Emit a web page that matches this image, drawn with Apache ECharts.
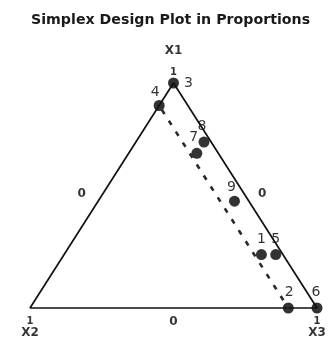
<!DOCTYPE html>
<html>
<head>
<meta charset="utf-8">
<script src="https://cdn.jsdelivr.net/npm/echarts@6/dist/echarts.min.js"></script>
<style>
  html, body { margin: 0; padding: 0; background: #fff; }
  #chart { width: 329px; height: 340px; }
</style>
</head>
<body>
<div id="chart"></div>
<script>
// Design runs, as proportions of the three components
const runIds = ['1', '2', '3', '4', '5', '6', '7', '8', '9'];
const propX1 = [0.2375, 0.0, 1.0, 0.9, 0.2375, 0.0, 0.6875, 0.7375, 0.475];
const propX2 = [0.075, 0.1, 0.0, 0.1, 0.025, 0.0, 0.075, 0.025, 0.05];
const propX3 = [0.6875, 0.9, 0.0, 0.0, 0.7375, 1.0, 0.2375, 0.2375, 0.475];

// Vertices and edges of the simplex
const componentNames = ['X1', 'X2', 'X3'];
const vertexValues = ['1', '1', '1'];
const edgeValues = ['0', '0', '0'];

// Upper bound on X2 (constraint line)
const x2Limit = 0.1;

// Ternary -> plane: X2 at (0,0), X3 at (1,0), X1 at (0.5,1)
function toXY(a, b, c) {
  const s = a + b + c;
  return [c / s + 0.5 * a / s, a / s];
}

const vX1 = toXY(1, 0, 0), vX2 = toXY(0, 1, 0), vX3 = toXY(0, 0, 1);
const mid = (p, q) => [(p[0] + q[0]) / 2, (p[1] + q[1]) / 2];

const labelFont = { fontFamily: 'DejaVu Sans', color: '#000' };

// per-run label placement
const runLabelPlace = {
  '1': { position: 'top', offset: [0, 0] },
  '2': { position: 'top', offset: [1, 0] },
  '3': { position: 'right', offset: [2, 0] },
  '4': { position: 'top', offset: [-4, 2] },
  '5': { position: 'top', offset: [0, 0] },
  '6': { position: 'top', offset: [-1, 0] },
  '7': { position: 'top', offset: [-3, 0] },
  '8': { position: 'top', offset: [-2, 0] },
  '9': { position: 'top', offset: [-3, 2] }
};

const runData = runIds.map((id, i) => {
  const place = runLabelPlace[id];
  return {
    name: id,
    value: toXY(propX1[i], propX2[i], propX3[i]),
    label: { position: place.position, offset: place.offset }
  };
});

// vertex captions: component name plus its value at that corner
const vertexData = [
  { value: vX1, label: { position: 'top', distance: 5,
      formatter: '{top|' + componentNames[0] + '}\n{v|' + vertexValues[0] + '}' } },
  { value: vX2, label: { position: 'bottom', distance: 8,
      formatter: '{v|' + vertexValues[1] + '}\n{n|' + componentNames[1] + '}' } },
  { value: vX3, label: { position: 'bottom', distance: 8,
      formatter: '{v|' + vertexValues[2] + '}\n{n|' + componentNames[2] + '}' } }
];

const edgeData = [
  { value: mid(vX1, vX2), label: { formatter: edgeValues[0], offset: [-20, -2] } },
  { value: mid(vX1, vX3), label: { formatter: edgeValues[1], offset: [17, -2] } },
  { value: mid(vX2, vX3), label: { formatter: edgeValues[2], offset: [0, 14] } }
];

const captionStyle = { fontFamily: 'DejaVu Sans', fontWeight: 'bold', color: '#000' };

const chart = echarts.init(document.getElementById('chart'), null, { renderer: 'canvas' });
chart.setOption({
  animation: false,
  backgroundColor: '#fff',
  title: {
    text: 'Simplex Design Plot in Proportions',
    left: 26,
    top: 8,
    textStyle: { fontFamily: 'DejaVu Sans', fontWeight: 'bold', fontSize: 14.2, color: '#1a1a1a' }
  },
  grid: { left: 30, right: 12, top: 83, bottom: 32 },
  xAxis: { type: 'value', min: 0, max: 1, show: false },
  yAxis: { type: 'value', min: 0, max: 1, show: false },
  series: [
    {
      type: 'line',
      data: [vX1, vX2, vX3, vX1],
      symbol: 'none',
      clip: false,
      lineStyle: { color: '#111', width: 1.7 },
      silent: true
    },
    {
      type: 'line',
      data: [toXY(1 - x2Limit, x2Limit, 0), toXY(0, x2Limit, 1 - x2Limit)],
      symbol: 'none',
      clip: false,
      lineStyle: { color: '#2a2a2a', width: 2.6, type: [5, 8], dashOffset: -18 },
      silent: true
    },
    {
      type: 'scatter',
      data: runData,
      symbol: 'circle',
      symbolSize: 11,
      clip: false,
      itemStyle: { color: '#000' },
      label: {
        show: true,
        formatter: '{b}',
        distance: 3,
        fontSize: 14,
        ...labelFont
      }
    },
    {
      type: 'scatter',
      data: vertexData,
      symbolSize: 0,
      clip: false,
      label: {
        show: true,
        align: 'center',
        rich: {
          top: { ...captionStyle, fontSize: 12, lineHeight: 33 },
          n: { ...captionStyle, fontSize: 12, lineHeight: 11 },
          v: { ...captionStyle, fontSize: 10, lineHeight: 11 }
        }
      }
    },
    {
      type: 'scatter',
      data: edgeData,
      symbolSize: 0,
      clip: false,
      label: {
        show: true,
        position: 'inside',
        fontWeight: 'bold',
        fontSize: 12,
        ...labelFont
      }
    }
  ]
});
</script>
</body>
</html>
